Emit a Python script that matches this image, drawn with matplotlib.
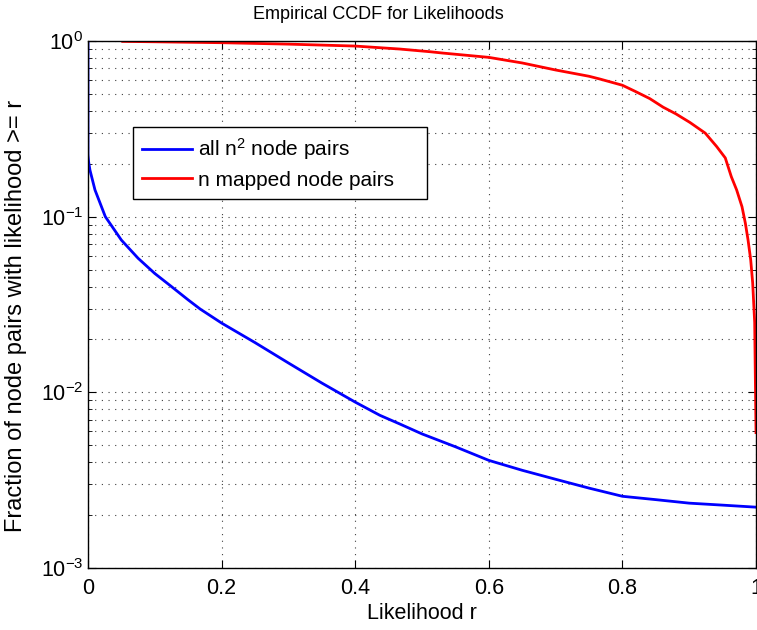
import matplotlib
matplotlib.use("Agg")
import matplotlib.pyplot as plt
from matplotlib.ticker import LogLocator, MultipleLocator

plt.rcParams['font.family'] = ['Liberation Sans', 'DejaVu Sans']
plt.rcParams['mathtext.default'] = 'regular'

# all n^2 node pairs
all_r = [0.0, 0.0, 0.001, 0.003, 0.0105, 0.026, 0.050, 0.075, 0.100, 0.125,
         0.150, 0.168, 0.200, 0.250, 0.300, 0.350, 0.400, 0.437, 0.467, 0.500,
         0.550, 0.600, 0.650, 0.700, 0.750, 0.800, 0.850, 0.900, 0.950, 1.000]
all_frac = [1.0, 0.225, 0.205, 0.184, 0.142, 0.100, 0.0736, 0.058, 0.0475, 0.040,
            0.0336, 0.0298, 0.0248, 0.0192, 0.0147, 0.0113, 0.0088, 0.0074, 0.0066, 0.0058,
            0.0049, 0.0041, 0.0036, 0.0032, 0.00285, 0.00256, 0.00245, 0.00234, 0.00228, 0.00222]

# n mapped node pairs
map_r = [0.052, 0.100, 0.200, 0.300, 0.400, 0.467, 0.512, 0.531, 0.600, 0.650,
         0.700, 0.750, 0.766, 0.800, 0.820, 0.841, 0.861, 0.880, 0.901, 0.924,
         0.941, 0.954, 0.963, 0.971, 0.979, 0.984, 0.988, 0.992, 0.995, 0.998,
         0.999, 1.000]
map_frac = [0.995, 0.990, 0.978, 0.960, 0.936, 0.900, 0.869, 0.854, 0.807, 0.750,
            0.684, 0.630, 0.608, 0.560, 0.515, 0.470, 0.420, 0.385, 0.344, 0.299,
            0.251, 0.216, 0.169, 0.142, 0.114, 0.092, 0.074, 0.057, 0.042, 0.025,
            0.012, 0.0059]

fig = plt.figure(figsize=(7.57, 6.30), dpi=100)
ax = fig.add_axes([0.1162, 0.0984, 0.8825, 0.8365])

# trailing spaces give the extra right margin of the original legend box
ax.plot(all_r, all_frac, color='blue', lw=2, label='all n$^2$ node pairs    ')
ax.plot(map_r, map_frac, color='red', lw=2, label='n mapped node pairs    ')

ax.set_yscale('log')
ax.set_xlim(0, 1)
ax.set_ylim(1e-3, 1)
ax.xaxis.set_major_locator(MultipleLocator(0.2))
ax.xaxis.set_major_formatter(plt.FuncFormatter(lambda v, p: '%g' % round(v, 1)))
ax.yaxis.set_major_locator(LogLocator(base=10, numticks=10))
ax.yaxis.set_minor_locator(LogLocator(base=10, subs=range(2, 10), numticks=20))

grid_style = dict(linestyle=(0, (1, 5)), color='#404040', lw=0.8)
ax.grid(True, which='major', axis='both', **grid_style)
ax.grid(True, which='minor', axis='y', **grid_style)
ax.tick_params(which='both', direction='in', top=True, right=True, labelsize=15.5)
ax.tick_params(which='major', length=6)
ax.tick_params(which='minor', length=3)
ax.tick_params(axis='x', pad=7)
for s in ax.spines.values():
    s.set_linewidth(1.0)

ax.set_title('Empirical CCDF for Likelihoods', fontsize=13, x=0.434, y=1.0, pad=16)
ax.set_xlabel('Likelihood r', fontsize=15.5, labelpad=3)
ax.set_ylabel('Fraction of node pairs with likelihood >= r', fontsize=17)
ax.yaxis.set_label_coords(-0.092, 0.478)

leg = ax.legend(loc='upper left', bbox_to_anchor=(0.067, 0.837), borderaxespad=0,
                fontsize=15, fancybox=False, framealpha=1, edgecolor='black',
                handlelength=2.4, handletextpad=0.3, borderpad=0.45, labelspacing=0.4)
leg.get_frame().set_linewidth(1.0)

fig.savefig('out.png', dpi=100)
